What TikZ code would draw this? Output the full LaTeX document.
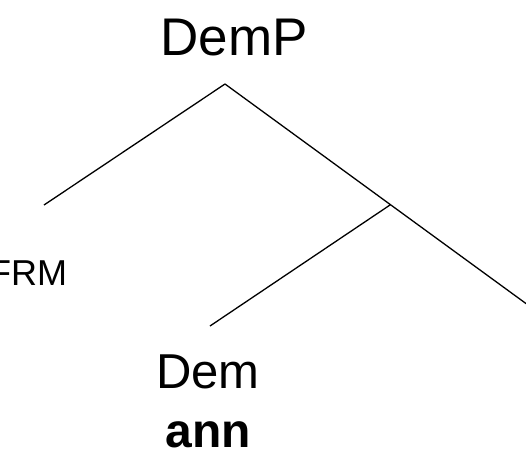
\documentclass[tikz,border=0pt]{standalone}
\usepackage{fontspec}
\setmainfont{Liberation Sans}
\begin{document}
\begin{tikzpicture}[x=1pt,y=-1pt,
  lbl/.style={inner sep=0pt, anchor=base},
  branch/.style={line width=1.3pt}]
\useasboundingbox (0,0) rectangle (526,456);
\node (demp) at (234,55) [lbl, font=\fontsize{53}{60}\selectfont] {DemP};
\node (frm) at (28,285) [lbl, font=\fontsize{36}{42}\selectfont] {FRM};
\node (dem) at (208,388) [lbl, font=\fontsize{49}{56}\selectfont] {Dem};
\node (ann) at (208,447) [lbl, font=\fontsize{48}{56}\selectfont\bfseries] {ann};

\coordinate (0) at (225,84);
\coordinate (1) at (44,205);
\coordinate (2) at (390,205);
\coordinate (3) at (528,305);
\coordinate (4) at (210,326);

\draw[branch]
(0) to (1)
(0) to (3)
(2) to (4);
\end{tikzpicture}
\end{document}
